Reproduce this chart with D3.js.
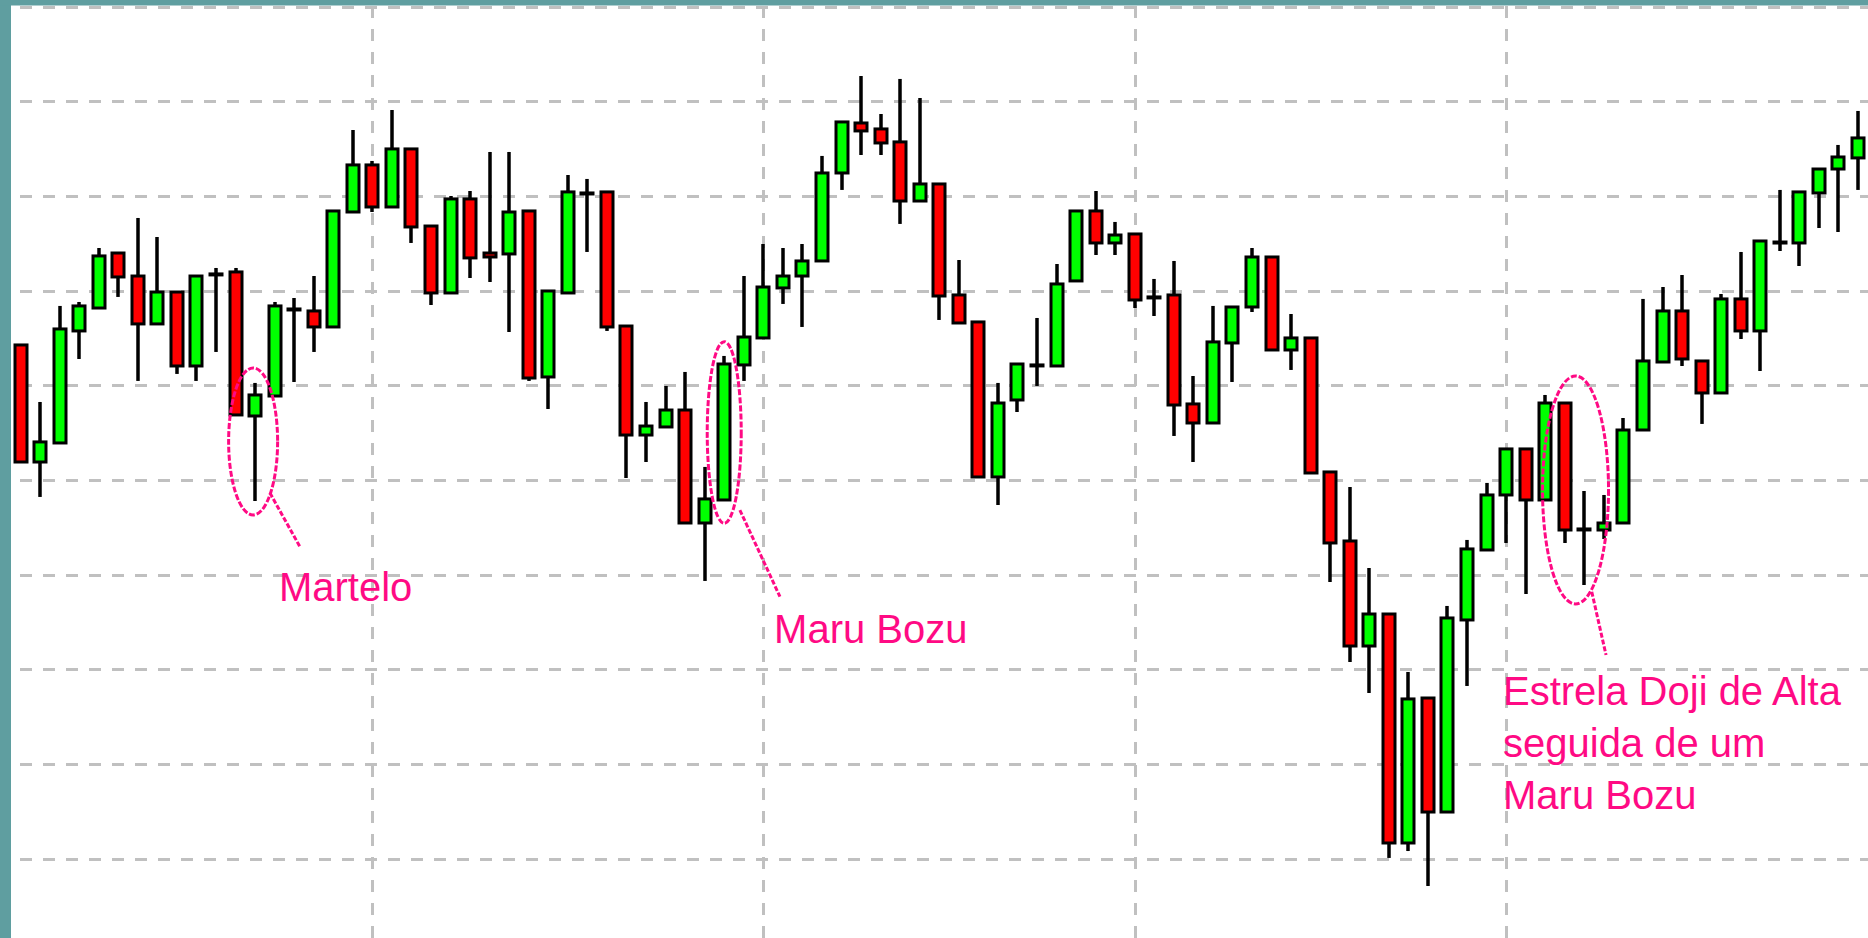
<!DOCTYPE html>
<html>
<head>
<meta charset="utf-8">
<script src="https://cdn.jsdelivr.net/npm/d3@7"></script>
<style>
body { margin: 0; background: #fff; }
svg { display: block; }
</style>
</head>
<body>
<div id="chart"></div>
<script>
// OHLC values, one entry per session
var openVals = [642.6, 519.0, 539.1, 657.4, 681.6, 739.7, 715.4, 664.8, 698.5, 620.4,
  717.6, 719.7, 567.6, 588.7, 680.6, 678.5, 661.6, 783.0, 832.7, 788.3,
  849.6, 768.2, 697.5, 796.8, 739.7, 738.7, 784.1, 608.8, 697.5, 803.1,
  804.2, 662.6, 547.5, 556.0, 573.9, 454.6, 478.9, 621.5, 650.0, 702.8,
  715.4, 731.3, 824.2, 877.0, 870.7, 857.0, 794.6, 812.6, 695.4, 666.9,
  503.2, 584.5, 621.5, 620.4, 710.2, 784.1, 750.3, 759.8, 693.3, 695.4,
  580.3, 560.2, 644.7, 682.7, 735.5, 637.3, 650.0, 508.5, 435.6, 324.7,
  358.5, 116.7, 269.8, 149.4, 352.2, 426.1, 484.2, 532.8, 478.9, 581.3,
  448.3, 447.2, 454.6, 552.8, 624.6, 678.5, 625.7, 591.9, 691.2, 657.4,
  751.3, 750.3, 803.1, 828.4, 840.1];

var highVals = [642.6, 582.4, 683.8, 688.0, 745.0, 739.7, 776.7, 756.6, 698.5, 715.4,
  723.9, 723.9, 602.5, 688.0, 692.2, 715.4, 784.1, 869.6, 836.9, 890.7,
  849.6, 768.2, 799.9, 805.2, 846.4, 846.4, 784.1, 699.6, 822.1, 817.9,
  804.2, 662.6, 582.4, 599.3, 614.1, 513.8, 631.0, 715.4, 749.2, 745.0,
  749.2, 842.2, 878.1, 926.6, 886.5, 923.5, 903.4, 812.6, 732.3, 666.9,
  602.5, 622.5, 671.1, 728.1, 784.1, 805.2, 772.5, 759.8, 712.3, 731.3,
  609.8, 683.8, 682.7, 745.0, 735.5, 675.3, 650.0, 508.5, 492.6, 407.1,
  358.5, 297.3, 269.8, 367.0, 436.7, 496.9, 532.8, 532.8, 589.8, 581.3,
  488.4, 484.2, 565.5, 691.2, 703.8, 716.5, 625.7, 696.4, 740.8, 752.4,
  806.3, 804.2, 828.4, 853.8, 889.7];

var lowVals = [519.0, 482.1, 539.1, 627.8, 681.6, 693.3, 604.6, 664.8, 612.0, 604.6,
  635.2, 568.7, 477.8, 588.7, 603.5, 635.2, 661.6, 783.0, 783.0, 788.3,
  750.3, 684.8, 697.5, 713.3, 709.1, 656.3, 604.6, 575.0, 697.5, 740.8,
  657.4, 502.1, 519.0, 556.0, 454.6, 393.4, 478.9, 604.6, 650.0, 685.9,
  661.6, 731.3, 806.3, 843.2, 843.2, 770.4, 794.6, 669.0, 665.8, 503.2,
  473.6, 571.8, 599.3, 620.4, 710.2, 737.6, 737.6, 681.6, 673.2, 546.5,
  519.0, 560.2, 603.5, 677.4, 637.3, 616.2, 507.4, 392.3, 307.8, 275.1,
  100.9, 108.2, 71.3, 149.4, 282.5, 426.1, 433.5, 379.6, 478.9, 433.5,
  389.1, 437.7, 454.6, 552.8, 624.6, 620.4, 559.2, 591.9, 648.9, 615.1,
  741.8, 726.0, 766.1, 761.9, 806.3];

var closeVals = [519.0, 540.2, 659.5, 683.8, 736.6, 714.4, 664.8, 698.5, 620.4, 715.4,
  717.6, 568.7, 589.8, 683.8, 680.6, 661.6, 784.1, 832.7, 788.3, 849.6,
  767.2, 697.5, 796.8, 734.5, 735.5, 783.0, 607.7, 699.6, 804.2, 803.1,
  661.6, 547.5, 557.0, 573.9, 454.6, 480.0, 622.5, 651.0, 703.8, 715.4,
  731.3, 824.2, 878.1, 868.6, 855.9, 794.6, 812.6, 694.3, 665.8, 503.2,
  581.3, 622.5, 621.5, 707.0, 784.1, 750.3, 758.7, 690.1, 693.3, 579.2,
  560.2, 645.8, 682.7, 735.5, 637.3, 650.0, 507.4, 433.5, 324.7, 358.5,
  116.7, 268.8, 149.4, 354.3, 427.2, 484.2, 532.8, 478.9, 581.3, 447.2,
  448.3, 454.6, 552.8, 625.7, 678.5, 627.8, 591.9, 691.2, 657.4, 752.4,
  751.3, 804.2, 828.4, 841.1, 861.2];

// price levels of the horizontal grid, sessions where a new period starts
var priceLevels = [1000, 900, 800, 700, 600, 500, 400, 300, 200, 100];
var periodStarts = [18, 38, 57, 76];

// annotations: candle index + price
var noteRings = [
  {i: 11.9, top: 618.3, bottom: 463.1},
  {i: 36, top: 646.1, bottom: 454.3},
  {i: 79.55, top: 609.8, bottom: 369.1}
];
var ringWidths = [24.5, 17, 33];
var notePointers = [
  {i1: 12.76, p1: 486.3, i2: 14.30, p2: 429.3},
  {i1: 36.80, p1: 468.3, i2: 38.85, p2: 376.8},
  {i1: 80.38, p1: 382.0, i2: 81.11, p2: 315.2}
];
var noteTexts = [
  {i: 13.22, p: 372.3, lines: ["Martelo"]},
  {i: 38.55, p: 327.9, lines: ["Maru Bozu"]},
  {i: 75.84, p: 262.4, lines: ["Estrela Doji de Alta", "seguida de um", "Maru Bozu"]}
];

var candles = openVals.map(function(o, i) {
  return {i: i, open: o, high: highVals[i], low: lowVals[i], close: closeVals[i]};
});

var width = 1868, height = 938;
var frameLeft = 11, frameTop = 5.5;

var svg = d3.select("#chart")
  .append("svg")
  .attr("width", width)
  .attr("height", height);

svg.append("rect")
  .attr("width", width).attr("height", height)
  .attr("fill", "#fff");

// scales
var x = d3.scaleLinear()
  .domain([0, candles.length - 1])
  .range([20.5, 1858]);
var y = d3.scaleLinear()
  .domain([100, 1000])
  .range([858.8, 6.5]);

// grid
svg.append("g")
  .selectAll("line")
  .data(priceLevels)
  .enter().append("line")
  .attr("x1", frameLeft).attr("x2", width)
  .attr("y1", function(d) { return Math.round(y(d)); })
  .attr("y2", function(d) { return Math.round(y(d)); })
  .attr("stroke", "#c0c0c0")
  .attr("stroke-width", 3)
  .attr("shape-rendering", "crispEdges")
  .attr("stroke-dasharray", "12 11")
  .attr("stroke-dashoffset", -9);

svg.append("g")
  .selectAll("line")
  .data(periodStarts)
  .enter().append("line")
  .attr("x1", function(d) { return Math.round(x(d)); })
  .attr("x2", function(d) { return Math.round(x(d)); })
  .attr("y1", frameTop).attr("y2", height)
  .attr("stroke", "#c0c0c0")
  .attr("stroke-width", 3)
  .attr("shape-rendering", "crispEdges")
  .attr("stroke-dasharray", "12 11");

// candles
var bodyW = 12;
var g = svg.append("g");

g.selectAll(".wick")
  .data(candles)
  .enter().append("line")
  .attr("class", "wick")
  .attr("x1", function(d) { return Math.round(x(d.i)); })
  .attr("x2", function(d) { return Math.round(x(d.i)); })
  .attr("y1", function(d) { return y(d.high); })
  .attr("y2", function(d) { return y(d.low); })
  .attr("stroke", "#000")
  .attr("stroke-width", 3.5);

g.selectAll(".body")
  .data(candles)
  .enter().append("rect")
  .attr("class", "body")
  .attr("x", function(d) { return Math.round(x(d.i)) - bodyW / 2; })
  .attr("y", function(d) { return y(Math.max(d.open, d.close)); })
  .attr("width", bodyW)
  .attr("height", function(d) { return Math.max(1, Math.abs(y(d.open) - y(d.close))); })
  .attr("fill", function(d) { return d.close >= d.open ? "#00ff00" : "#ff0000"; })
  .attr("stroke", "#000")
  .attr("stroke-width", 3);

// annotations
var pink = "#ff0a84";
var notes = svg.append("g");

notes.selectAll("ellipse")
  .data(noteRings)
  .enter().append("ellipse")
  .attr("cx", function(d) { return x(d.i); })
  .attr("cy", function(d) { return (y(d.top) + y(d.bottom)) / 2; })
  .attr("rx", function(d, k) { return ringWidths[k]; })
  .attr("ry", function(d) { return (y(d.bottom) - y(d.top)) / 2; })
  .attr("fill", "none")
  .attr("stroke", pink)
  .attr("stroke-width", 3)
  .attr("stroke-dasharray", "6 2");

notes.selectAll("line")
  .data(notePointers)
  .enter().append("line")
  .attr("x1", function(d) { return x(d.i1); })
  .attr("y1", function(d) { return y(d.p1); })
  .attr("x2", function(d) { return x(d.i2); })
  .attr("y2", function(d) { return y(d.p2); })
  .attr("stroke", pink)
  .attr("stroke-width", 3)
  .attr("stroke-dasharray", "5 2");

var label = notes.selectAll("text")
  .data(noteTexts)
  .enter().append("text")
  .attr("x", function(d) { return x(d.i); })
  .attr("y", function(d) { return y(d.p); })
  .attr("fill", pink)
  .attr("font-family", "'Liberation Sans', Arial, sans-serif")
  .attr("font-size", 40);

label.selectAll("tspan")
  .data(function(d) { return d.lines.map(function(t) { return {t: t, x: x(d.i)}; }); })
  .enter().append("tspan")
  .attr("x", function(d) { return d.x; })
  .attr("dy", function(d, k) { return k === 0 ? 0 : 52; })
  .text(function(d) { return d.t; });

// teal frame on the left and top
svg.append("rect")
  .attr("x", 0).attr("y", 0)
  .attr("width", frameLeft).attr("height", height)
  .attr("fill", "#5f9ea0");
svg.append("rect")
  .attr("x", 0).attr("y", 0)
  .attr("width", width).attr("height", frameTop)
  .attr("fill", "#5f9ea0");
</script>
</body>
</html>
